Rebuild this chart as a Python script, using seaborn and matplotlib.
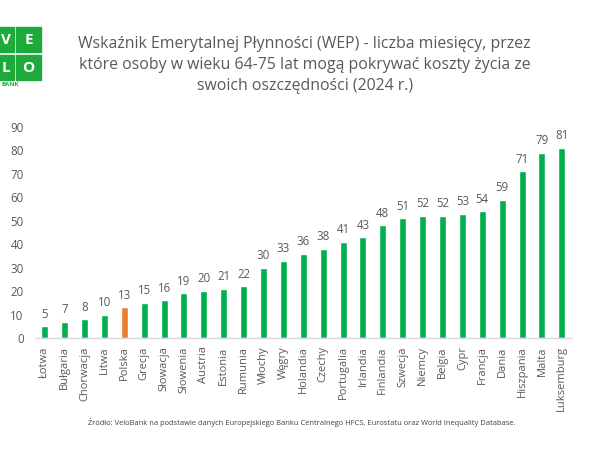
import matplotlib
matplotlib.use("Agg")
import matplotlib.pyplot as plt
import seaborn as sns
import pandas as pd
from matplotlib.patches import Rectangle

countries = ["Łotwa", "Bułgaria", "Chorwacja", "Litwa", "Polska", "Grecja", "Słowacja",
             "Słowenia", "Austria", "Estonia", "Rumunia", "Włochy", "Węgry", "Holandia",
             "Czechy", "Portugalia", "Irlandia", "Finlandia", "Szwecja", "Niemcy", "Belgia",
             "Cypr", "Francja", "Dania", "Hiszpania", "Malta", "Luksemburg"]
values = [5, 7, 8, 10, 13, 15, 16, 19, 20, 21, 22, 30, 33, 36, 38, 41, 43, 48, 51, 52, 52,
          53, 54, 59, 71, 79, 81]
yticks = [0, 10, 20, 30, 40, 50, 60, 70, 80, 90]
title = ("Wskaźnik Emerytalnej Płynności (WEP) - liczba miesięcy, przez\n"
         "które osoby w wieku 64-75 lat mogą pokrywać koszty życia ze\n"
         "swoich oszczędności (2024 r.)")
source = ("Źródło: VeloBank na podstawie danych Europejskiego Banku Centralnego HFCS, "
          "Eurostatu oraz World Inequality Database.")

GREEN = "#00B050"
ORANGE = "#ED7D31"
GRAY = "#595959"

sns.set_theme(style="white")
plt.rcParams['font.family'] = ['Open Sans', 'DejaVu Sans']

df = pd.DataFrame({"kraj": countries, "wep": values})
palette = {c: (ORANGE if c == "Polska" else GREEN) for c in countries}

fig = plt.figure(figsize=(6, 4.5), dpi=100)
ax = fig.add_axes([0.058, 0.249, 0.895, 0.469])
sns.barplot(data=df, x="kraj", y="wep", hue="kraj", palette=palette, legend=False,
            width=0.35, ax=ax, saturation=1)
for cont in ax.containers:
    ax.bar_label(cont, fmt="%d", padding=4, fontsize=8.3, color=GRAY)

ax.set_ylim(0, 90)
ax.set_xlim(-0.5, len(countries) - 0.5)
ax.set_yticks(yticks)
ax.set_xlabel("")
ax.set_ylabel("")
ax.tick_params(axis="y", labelsize=8.3, labelcolor=GRAY, length=0, pad=8)
ax.tick_params(axis="x", labelsize=8, labelcolor=GRAY, length=0, rotation=90, pad=6)
for s in ["top", "right", "left"]:
    ax.spines[s].set_visible(False)
ax.spines["bottom"].set_color("#D9D9D9")
ax.spines["bottom"].set_linewidth(1)

fig.text(0.508, 1 - 65 / 450, title, ha="center", va="center", fontsize=11.4, color=GRAY,
         linespacing=1.42)
fig.text(0.147, 0.062, source, ha="left", va="center", fontsize=5.45, color="#404040")

# logo (partially cut at left edge)
LG = "#1DAA3A"
sq = 25 / 600
sqh = 25 / 450
for x, y in [(-11, 27), (16, 27), (-11, 55), (16, 55)]:
    fig.patches.append(Rectangle((x / 600, 1 - (y + 25) / 450), sq, sqh,
                                 transform=fig.transFigure, color=LG, zorder=5))
letters = [(6, 39.5, "V"), (28.5, 39.5, "E"), (6, 67.5, "L"), (28.5, 67.5, "O")]
for x, y, t in letters:
    fig.text(x / 600, 1 - y / 450, t, ha="center", va="center",
             color="white", fontsize=11, fontweight="bold", zorder=6)
fig.text(1 / 600, 1 - 85 / 450, "BANK", ha="left", va="center", color=LG,
         fontsize=4.5, fontweight="bold")

fig.savefig("out.png", dpi=100)
